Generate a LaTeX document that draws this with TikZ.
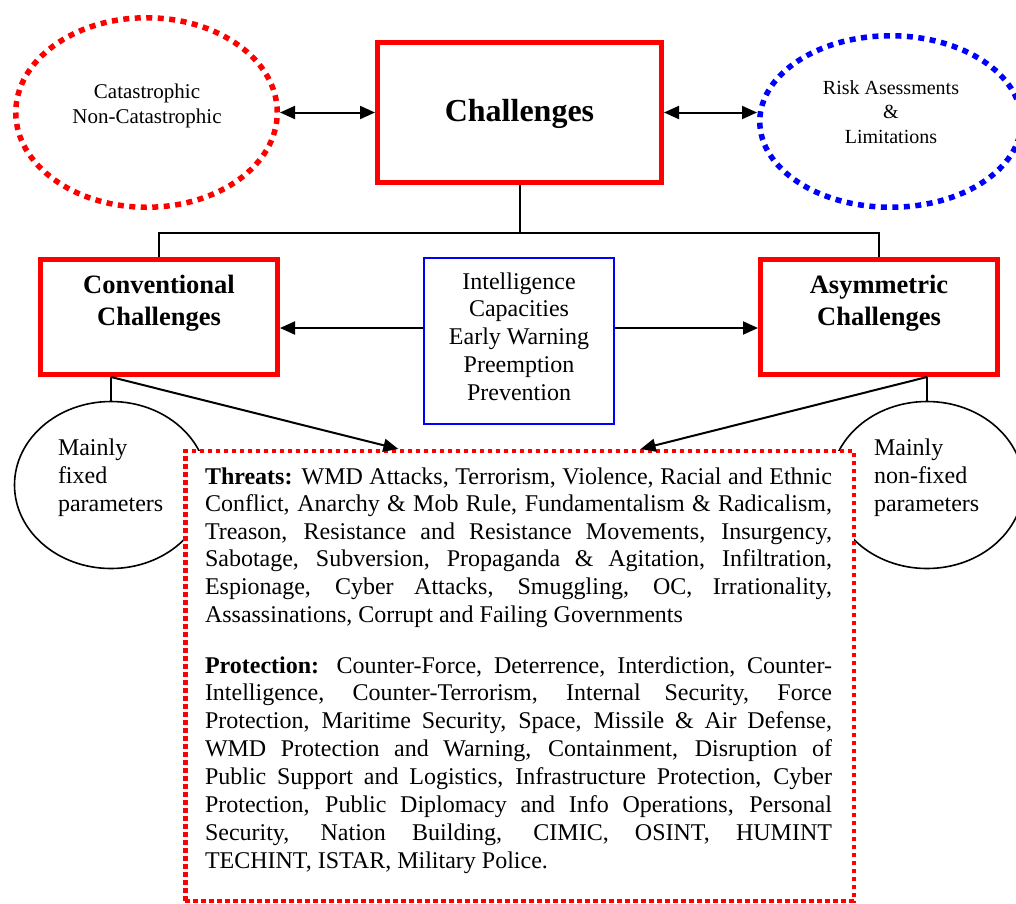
\documentclass[tikz,border=0pt]{standalone}
\usepackage{fontspec}
\setmainfont{Liberation Serif}
\usetikzlibrary{arrows.meta,shapes.geometric,calc}
\definecolor{boxred}{RGB}{255,0,0}
\definecolor{boxblue}{RGB}{0,0,255}

\newcommand{\bodysize}{\fontsize{24}{27.6}\selectfont}
\newcommand{\justline}[1]{\makebox[627pt][s]{#1}\par}

\begin{document}
\begin{tikzpicture}[x=1pt,y=-1pt,
  conn/.style={draw=black, line width=2pt},
  arr/.style={conn, -{Triangle[length=15pt,width=13pt]}},
  darr/.style={conn, {Triangle[length=15pt,width=13pt]}-{Triangle[length=15pt,width=13pt]}},
  redbox/.style={draw=boxred, line width=5pt, rectangle, inner sep=0pt},
  dotoval/.style={ellipse, line width=5.5pt, dash pattern=on 6pt off 5.5pt,
    minimum width=261.5pt, inner sep=0pt},
  circ/.style={ellipse, draw=black, line width=1.6pt, minimum width=193pt,
    minimum height=167pt, inner sep=0pt},
  txt/.style={inner sep=0pt, outer sep=0pt, anchor=base}
]
\useasboundingbox (0,0) rectangle (1016,903);
\clip (0,0) rectangle (1016,903);

% top row: central box and its two ovals
\node[redbox, minimum width=284pt, minimum height=140pt] (chal) at (519.5,112.5) {};
\node[txt, font=\fontsize{32}{36}\selectfont\bfseries] (chaltxt) at (519.5,121) {Challenges};

\node[dotoval, draw=boxred, minimum height=189.5pt] (cat) at (146.5,112.5) {};
\node[txt, font=\fontsize{21}{25}\selectfont] (cattxt) at (147,98)
  {\parbox[t]{220pt}{\centering Catastrophic\\Non-Catastrophic}};

\node[dotoval, draw=boxblue, minimum height=171.5pt] (risk) at (890.5,121.5) {};
\node[txt, font=\fontsize{20}{24.5}\selectfont] (risktxt) at (891,94)
  {\parbox[t]{220pt}{\centering Risk Asessments\\\&\\Limitations}};

\draw[darr] (cat.east |- chal.west) -- (chal.west);
\draw[darr] (chal.east) -- (chal.east -| risk.west);

% second row
\node[redbox, minimum width=237pt, minimum height=115pt] (conv) at (159,317) {};
\node[txt, font=\fontsize{26.5}{32}\selectfont\bfseries] (convtxt) at (159,293)
  {\parbox[t]{230pt}{\centering Conventional\\Challenges}};

\node[redbox, minimum width=237pt, minimum height=115pt] (asym) at (879,317) {};
\node[txt, font=\fontsize{26.5}{32}\selectfont\bfseries] (asymtxt) at (879,293)
  {\parbox[t]{230pt}{\centering Asymmetric\\Challenges}};

\node[draw=boxblue, line width=2pt, rectangle, inner sep=0pt,
  minimum width=190pt, minimum height=166pt] (intel) at (519,341) {};
\node[txt, font=\fontsize{24}{27.8}\selectfont] (inteltxt) at (519,289)
  {\parbox[t]{186pt}{\centering Intelligence\\Capacities\\Early Warning\\Preemption\\Prevention}};

\coordinate (stem) at ($(chal.south)+(0,48)$);
\draw[conn] (chal.south) -- (stem);
\draw[conn] (conv.north) |- (stem) -| (asym.north);

\draw[arr] ([yshift=13pt]intel.west) -- ([yshift=13pt]intel.west -| conv.east);
\draw[arr] ([yshift=13pt]intel.east) -- ([yshift=13pt]intel.east -| asym.west);

% parameter circles
\node[circ] (fixed) at (111,485) {};
\node[txt, anchor=base west, font=\fontsize{24}{28.4}\selectfont] (fixedtxt) at (58,455)
  {\parbox[t]{140pt}{\raggedright Mainly\\fixed\\parameters}};
\node[circ] (nonfixed) at (927,485) {};
\node[txt, anchor=base west, font=\fontsize{24}{28.4}\selectfont] (nonfixedtxt) at (874,455)
  {\parbox[t]{140pt}{\raggedright Mainly\\non-fixed\\parameters}};

\draw[conn] (conv.south -| fixed.north) -- (fixed.north);
\draw[conn] (asym.south -| nonfixed.north) -- (nonfixed.north);

% threats and protection panel
\node[draw=boxred, fill=white, line width=4.5pt, dash pattern=on 4.5pt off 3.5pt,
  rectangle, inner sep=0pt, minimum width=668.5pt, minimum height=449.75pt] (threats)
  at (519.5,676.1) {};

\draw[arr] (conv.south -| fixed.north) -- ($(threats.north west)!0.32!(threats.north east)$);
\draw[arr] (asym.south -| nonfixed.north) -- ($(threats.north west)!0.68!(threats.north east)$);

\node[txt, anchor=base west, font=\bodysize] (threatstxt) at (205,484)
  {\parbox[t]{627pt}{\parindent=0pt
  \justline{\textbf{Threats:} WMD Attacks, Terrorism, Violence, Racial and Ethnic}
  \justline{Conflict, Anarchy \& Mob Rule, Fundamentalism \& Radicalism,}
  \justline{Treason, Resistance and Resistance Movements, Insurgency,}
  \justline{Sabotage, Subversion, Propaganda \& Agitation, Infiltration,}
  \justline{Espionage, Cyber Attacks, Smuggling, OC, Irrationality,}
  Assassinations, Corrupt and Failing Governments}};

\node[txt, anchor=base west, font=\fontsize{24}{27.9}\selectfont] (prottxt) at (205,673)
  {\parbox[t]{627pt}{\parindent=0pt
  \justline{\textbf{Protection:} Counter-Force, Deterrence, Interdiction, Counter-}
  \justline{Intelligence, Counter-Terrorism, Internal Security, Force}
  \justline{Protection, Maritime Security, Space, Missile \& Air Defense,}
  \justline{WMD Protection and Warning, Containment, Disruption of}
  \justline{Public Support and Logistics, Infrastructure Protection, Cyber}
  \justline{Protection, Public Diplomacy and Info Operations, Personal}
  \justline{Security, Nation Building, CIMIC, OSINT, HUMINT}
  TECHINT, ISTAR, Military Police.}};
\end{tikzpicture}
\end{document}
